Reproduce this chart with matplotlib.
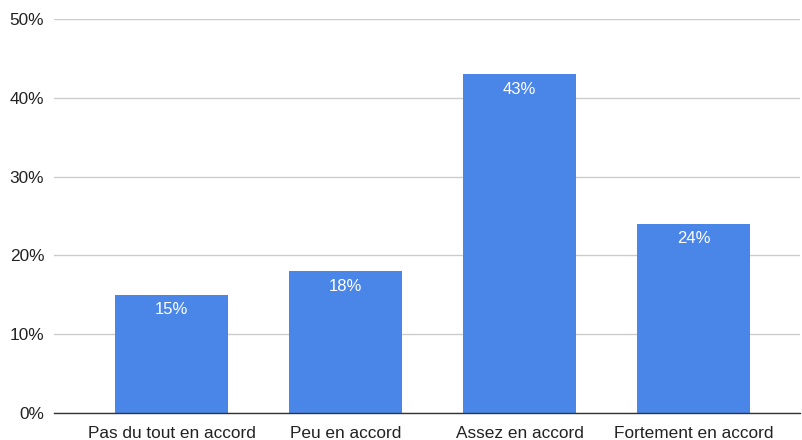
import matplotlib
matplotlib.use("Agg")
import matplotlib.pyplot as plt
from matplotlib.ticker import FuncFormatter

categories = ["Pas du tout en accord", "Peu en accord", "Assez en accord", "Fortement en accord"]
values = [15, 18, 43, 24]
labels = ["15%", "18%", "43%", "24%"]

plt.rcParams['font.family'] = ['Liberation Sans', 'DejaVu Sans']

fig = plt.figure(figsize=(8.02, 4.40), dpi=100)
ax = fig.add_axes([54/802, 1-413/440, (800-54)/802, (413-19)/440])

x = list(range(len(categories)))
bars = ax.bar(x, values, width=0.65, color="#4a86e8", zorder=3)
for xi, v, lab in zip(x, values, labels):
    ax.annotate(lab, (xi, v), xytext=(0, -15), textcoords="offset pixels",
                ha="center", va="center", color="white", fontsize=12, zorder=4)

ax.set_ylim(0, 50)
ax.set_yticks([0, 10, 20, 30, 40, 50])
ax.yaxis.set_major_formatter(FuncFormatter(lambda v, p: f"{int(v)}%"))
ax.set_xlim(-0.675, 3.61)
ax.set_xticks(x)
ax.set_xticklabels(categories)
ax.tick_params(axis='both', length=0, labelsize=12.4, colors="#222222")
ax.tick_params(axis='y', pad=7)
ax.tick_params(axis='x', pad=9)
ax.grid(axis='y', color="#cccccc", linewidth=1, zorder=0)
for s in ["top", "right", "left"]:
    ax.spines[s].set_visible(False)
ax.spines["bottom"].set_color("#333333")
ax.spines["bottom"].set_linewidth(1)
ax.spines["bottom"].set_zorder(5)

fig.savefig("out.png", dpi=100)
